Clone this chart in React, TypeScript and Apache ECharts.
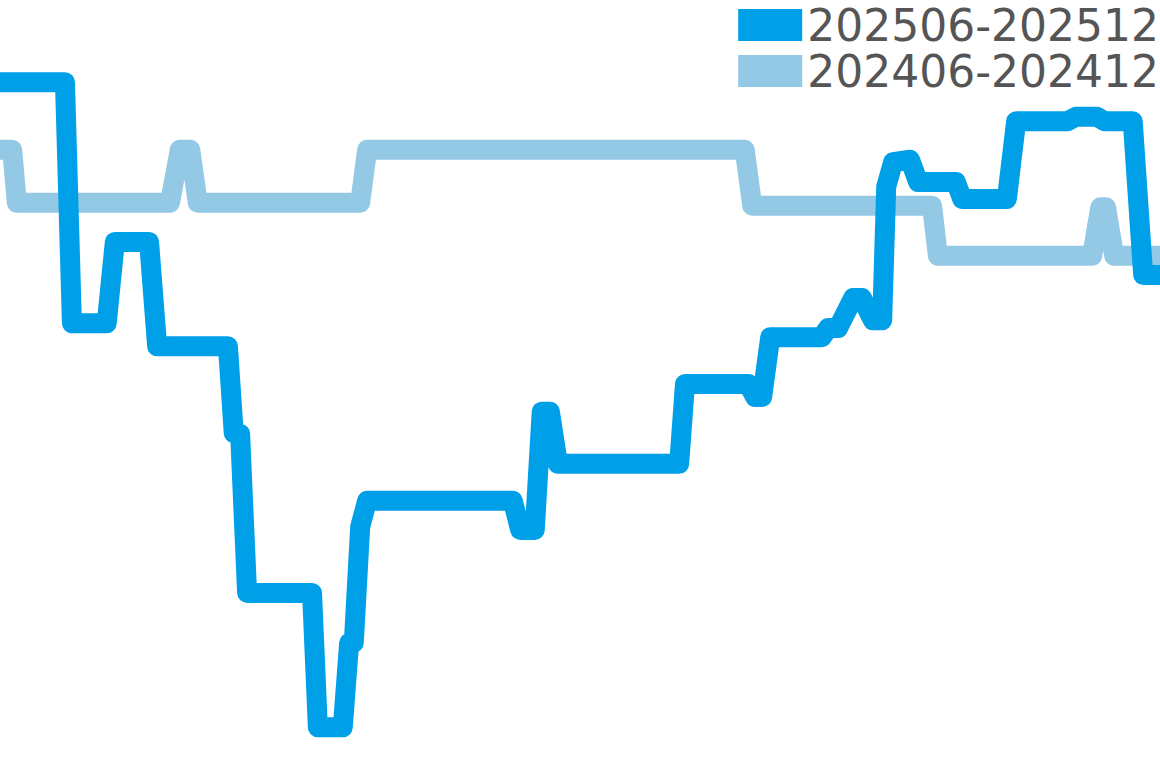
import { useEffect, useRef } from "react";
import * as echarts from "echarts";

type EChartsOption = echarts.EChartsOption;

// x = day index in the period, y = index value (axes are hidden in the chart)
const seriesNames = ["202506-202512", "202406-202412"];

const current: [number, number][] = [
  [0, 89.3], [11.2, 89.3], [12.4, 57.9], [18.4, 57.9], [19.8, 68.5], [25.7, 68.5],
  [27.1, 54.9], [39.3, 54.9], [40.3, 43.6], [41.4, 43.5], [42.6, 22.8], [53.8, 22.8],
  [54.8, 5.3], [59.1, 5.3], [60.2, 16.3], [61.0, 16.3], [62.1, 31.4], [63.3, 34.8],
  [88.4, 34.8], [89.7, 31.0], [92.2, 31.0], [93.4, 46.4], [94.8, 46.4], [96.2, 39.6],
  [117.1, 39.6], [118.1, 50.0], [129.0, 50.0], [130.2, 48.3], [131.4, 48.3], [132.8, 56.1],
  [141.7, 56.1], [142.8, 57.3], [144.5, 57.3], [147.1, 61.2], [148.6, 61.2], [150.5, 58.3],
  [152.1, 58.3], [152.8, 75.7], [154.0, 78.9], [156.9, 79.2], [158.3, 76.3], [164.8, 76.3],
  [165.9, 74.1], [173.6, 74.1], [175.2, 84.2], [184.0, 84.2], [185.5, 84.8], [189.1, 84.8],
  [190.5, 84.2], [195.3, 84.2], [197.1, 64.2], [200, 64.2],
];

const lastYear: [number, number][] = [
  [0, 80.5], [2.1, 80.5], [2.9, 73.6], [29.3, 73.6], [31.0, 80.5], [32.8, 80.5],
  [34.1, 73.6], [62.1, 73.6], [63.3, 80.5], [128.4, 80.5], [129.7, 73.2], [160.7, 73.2],
  [161.7, 66.7], [188.3, 66.7], [189.7, 73.0], [190.7, 73.0], [192.1, 66.7], [200, 66.7],
];

const colors = ["#00a0e9", "#93c9e4"];

export default function App() {
  const chartRef = useRef<HTMLDivElement>(null);

  useEffect(() => {
    if (!chartRef.current) return;
    const chart = echarts.init(chartRef.current, undefined, { renderer: "svg" });
    const option: EChartsOption = {
      animation: false,
      color: colors,
      legend: {
        data: seriesNames,
        orient: "vertical",
        right: 1,
        top: 3,
        padding: 0,
        itemGap: 2,
        icon: "rect",
        itemWidth: 64,
        itemHeight: 32,
        textStyle: {
          fontFamily: "DejaVu Sans",
          fontSize: 44,
          lineHeight: 42,
          color: "#555555",
        },
      },
      grid: { left: 0, right: 0, top: 0, bottom: 0 },
      xAxis: { type: "value", min: 0, max: 200, show: false },
      yAxis: { type: "value", min: 0, max: 100, show: false },
      series: [
        {
          name: seriesNames[0],
          type: "line",
          data: current,
          showSymbol: false,
          z: 3,
          lineStyle: { width: 20, join: "round", cap: "butt", color: colors[0] },
        },
        {
          name: seriesNames[1],
          type: "line",
          data: lastYear,
          showSymbol: false,
          z: 2,
          lineStyle: { width: 20, join: "round", cap: "butt", color: colors[1] },
        },
      ],
    };
    chart.setOption(option);
    return () => {
      chart.dispose();
    };
  }, []);

  return (
    <div
      ref={chartRef}
      style={{ position: "absolute", left: 0, top: 0, width: 1160, height: 768 }}
    />
  );
}
